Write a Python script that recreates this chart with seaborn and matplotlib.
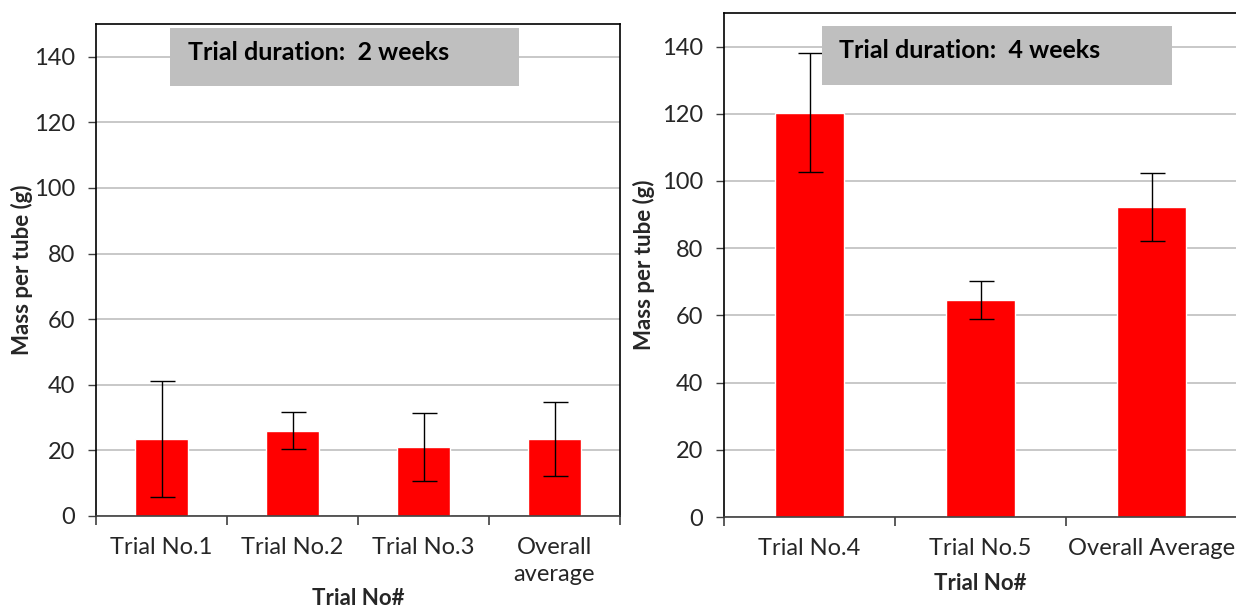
import matplotlib
matplotlib.use("Agg")
import matplotlib.pyplot as plt
from matplotlib.patches import Rectangle
from matplotlib.ticker import FixedLocator
import numpy as np
import pandas as pd
import seaborn as sns

# 2 week trials
trials_2wk = ['Trial No.1', 'Trial No.2', 'Trial No.3', 'Overall\naverage']
mass_2wk = [23.5, 26.0, 21.0, 23.5]
err_2wk = [17.6, 5.6, 10.3, 11.4]

# 4 week trials
trials_4wk = ['Trial No.4', 'Trial No.5', 'Overall Average']
mass_4wk = [120.3, 64.5, 92.3]
err_4wk = [17.7, 5.6, 10.2]

y_ticks = [0, 20, 40, 60, 80, 100, 120, 140]

sns.set_style('white')
plt.rcParams['font.family'] = ['Lato', 'DejaVu Sans']

TXT = '#262626'


# Helper function to draw one panel
def plot_panel(ax, cats, vals, errs, note, box, note_xy, xlab_y, ylab_x, tick_pad):
    df = pd.DataFrame({'trial': cats, 'mass': vals})
    n = len(cats)
    sns.barplot(data=df, x='trial', y='mass', color='#ff0000', saturation=1,
                width=0.4, errorbar=None, ax=ax, zorder=2)
    ax.errorbar(np.arange(n), vals, yerr=errs, fmt='none', ecolor='black',
                elinewidth=1, capsize=9, capthick=1, zorder=3)

    ax.set_xlim(-0.5, n - 0.5)
    ax.set_ylim(0, 150)
    ax.set_yticks(y_ticks)
    ax.yaxis.grid(True, color='#bfbfbf', linewidth=1.2)
    ax.set_axisbelow(True)

    # excel style category ticks between the bars
    ax.xaxis.set_minor_locator(FixedLocator(np.arange(-0.5, n, 1.0)))
    ax.tick_params(axis='x', which='major', length=0, pad=tick_pad,
                   labelsize=17, labelcolor=TXT)
    ax.tick_params(axis='x', which='minor', length=6.5, width=1.2,
                   direction='out', color='#404040', bottom=True)
    ax.tick_params(axis='y', length=6, width=1, direction='out', left=True,
                   color='#404040', pad=9, labelsize=17, labelcolor=TXT)
    plt.setp(ax.get_xticklabels(), linespacing=1.35)

    for s in ax.spines.values():
        s.set_color('black')
        s.set_linewidth(1.2)
    ax.spines['bottom'].set_color('#404040')

    ax.set_xlabel('Trial No#', fontsize=16, fontweight='bold', color=TXT)
    ax.set_ylabel('Mass per tube (g)', fontsize=16, fontweight='bold', color=TXT)
    ax.xaxis.set_label_coords(0.5, xlab_y)
    ax.xaxis.label.set_va('center')
    ax.yaxis.set_label_coords(ylab_x, 0.5)
    ax.yaxis.label.set_va('center')

    x0, y0, x1, y1 = box
    ax.add_patch(Rectangle((x0, y0), x1 - x0, y1 - y0, transform=ax.transAxes,
                           facecolor='#bfbfbf', edgecolor='none', zorder=4,
                           clip_on=False))
    ax.text(note_xy[0], note_xy[1], note, transform=ax.transAxes, ha='left',
            va='center', fontsize=18, fontweight='bold', color='black', zorder=5)
    return ax


fig = plt.figure(figsize=(12.36, 6.08), dpi=100)
ax1 = fig.add_axes([96 / 1236, 1 - 516 / 608, 524 / 1236, 492 / 608])
ax2 = fig.add_axes([724 / 1236, 1 - 517 / 608, 513 / 1236, 504 / 608])

plot_panel(ax1, trials_2wk, mass_2wk, err_2wk, 'Trial duration:  2 weeks',
           (0.141, 0.874, 0.807, 0.992), (0.176, 0.942), -0.167, -0.141, 15)
plot_panel(ax2, trials_4wk, mass_4wk, err_4wk, 'Trial duration:  4 weeks',
           (0.191, 0.857, 0.873, 0.975), (0.224, 0.925), -0.131, -0.156, 15)
ax2.spines['right'].set_visible(False)

fig.savefig('out.png', dpi=100)
